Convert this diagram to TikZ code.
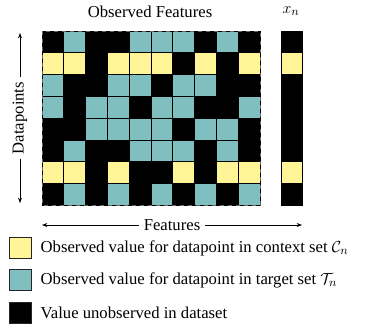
\documentclass[tikz,border=0pt]{standalone}
\usepackage{fontspec}
\setmainfont{Liberation Serif}
\usetikzlibrary{arrows.meta}

\definecolor{cell0}{RGB}{0,0,0}
\definecolor{cell1}{RGB}{255,245,150}
\definecolor{cell2}{RGB}{128,191,191}

\tikzset{
    cellbox/.style={draw=black,line width=0.6pt,inner sep=0pt,minimum size=16.3pt},
    keybox/.style={draw=black!85,line width=0.6pt,inner sep=0pt,minimum size=16.3pt},
    axisarrow/.style={-{Stealth[length=4pt,width=3pt]},line width=0.5pt},
}

\begin{document}
\begin{tikzpicture}[x=0.75pt,y=-0.75pt,font=\fontsize{12.5}{15}\selectfont]
\useasboundingbox (0,0) rectangle (384,328);

% observed features grid: 0 = unobserved, 1 = context, 2 = target
\fill[black] (42,31) rectangle (260,205);
\foreach \row [count=\j from 0] in {
    {0,2,0,0,2,2,2,0,2,0},
    {1,1,0,1,1,1,0,1,0,1},
    {2,0,0,2,2,0,2,2,0,0},
    {2,0,2,2,0,2,2,0,0,2},
    {0,0,2,2,2,2,0,2,2,0},
    {0,2,0,0,2,2,2,0,2,0},
    {1,1,0,1,0,0,1,0,1,1},
    {0,2,0,2,0,2,0,2,0,2}} {
    \foreach \v [count=\i from 0] in \row {
        \node[cellbox,fill=cell\v] (c\j-\i) at (52.9+21.8*\i,41.9+21.8*\j) {};
    }
}
\draw[black!60,dashed,line width=0.4pt] (42,31) rectangle (260,205);

% target column x_n
\foreach \v [count=\j from 0] in {0,1,0,0,0,0,1,0} {
    \node[cellbox,fill=cell\v] (x\j) at (292,41.9+21.8*\j) {};
}

\node (title) at (150,12) {Observed Features};
\node (xn) at (291,11) {$x_n$};

% axes
\node[rotate=90] (dp) at (20,118) {Datapoints};
\coordinate (dtop) at (20,33);
\coordinate (dbot) at (20,203);
\draw[axisarrow] (dp.east) -- (dtop);
\draw[axisarrow] (dp.west) -- (dbot);

\node (feat) at (172,225) {Features};
\coordinate (fleft) at (42,225);
\coordinate (fright) at (302,225);
\draw[axisarrow] (feat.west) -- (fleft);
\draw[axisarrow] (feat.east) -- (fright);

% legend
\node[keybox,fill=cell1] (k1) at (20.5,248) {};
\node[keybox,fill=cell2] (k2) at (20.5,280) {};
\node[keybox,fill=cell0] (k3) at (20.5,313) {};
\node[anchor=west] (t1) at (36,248) {Observed value for datapoint in context set $\mathcal{C}_n$};
\node[anchor=west] (t2) at (36,280) {Observed value for datapoint in target set $\mathcal{T}_n$};
\node[anchor=west] (t3) at (36,313) {Value unobserved in dataset};
\end{tikzpicture}
\end{document}
